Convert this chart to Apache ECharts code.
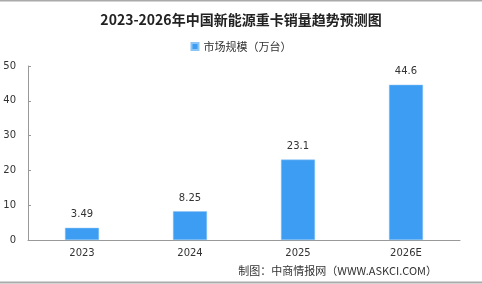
<!DOCTYPE html>
<html>
<head>
<meta charset="utf-8">
<script src="https://cdn.jsdelivr.net/npm/echarts@6/dist/echarts.min.js"></script>
<style>
  html, body { margin: 0; padding: 0; background: #fff; }
  #chart { width: 482px; height: 284px; }
</style>
</head>
<body>
<div id="chart"></div>
<script>
const categories = ['2023', '2024', '2025', '2026E']
const marketSize = [3.49, 8.25, 23.1, 44.6]
const seriesName = '市场规模（万台）'

const chart = echarts.init(document.getElementById('chart'))
const options = {
  animation: false,
  title: {
    text: '2023-2026年中国新能源重卡销量趋势预测图',
    left: 'center',
    top: 8,
    textStyle: {
      fontFamily: 'Noto Sans CJK SC',
      fontWeight: 'bold',
      fontSize: 14,
      color: '#222',
    },
  },
  legend: {
    data: [seriesName],
    top: 36,
    left: 'center',
    itemWidth: 7,
    itemHeight: 7,
    itemGap: 4,
    icon: 'rect',
    textStyle: {
      fontFamily: 'Noto Sans CJK SC',
      fontSize: 11,
      color: '#333',
    },
  },
  grid: {
    left: 28,
    right: 22,
    top: 66,
    bottom: 44,
  },
  xAxis: {
    type: 'category',
    data: categories,
    axisLine: { lineStyle: { color: '#999' } },
    axisTick: { inside: true, length: 4, lineStyle: { color: '#999' } },
    axisLabel: {
      color: '#333',
      fontSize: 10,
      fontFamily: 'DejaVu Sans',
      margin: 8,
    },
  },
  yAxis: {
    type: 'value',
    min: 0,
    max: 50,
    interval: 10,
    splitLine: { show: false },
    axisLine: { show: true, lineStyle: { color: '#999' } },
    axisTick: { show: true, inside: true, length: 3, lineStyle: { color: '#999' } },
    axisLabel: {
      color: '#333',
      fontSize: 10,
      fontFamily: 'DejaVu Sans',
      margin: 12,
    },
  },
  series: [
    {
      name: seriesName,
      type: 'bar',
      data: marketSize,
      barWidth: 34,
      itemStyle: {
        color: '#3d9df2',
        borderColor: '#8cc4f5',
        borderWidth: 0.5,
      },
      label: {
        show: true,
        position: 'top',
        distance: 8,
        color: '#333',
        fontSize: 10,
        fontFamily: 'DejaVu Sans',
      },
    },
  ],
  graphic: [
    {
      type: 'line',
      shape: { x1: 0, y1: 0.5, x2: 482, y2: 0.5 },
      style: { stroke: '#aaa', lineWidth: 2 },
    },
    {
      type: 'line',
      shape: { x1: 0, y1: 282.5, x2: 482, y2: 282.5 },
      style: { stroke: '#aaa', lineWidth: 2 },
    },
    {
      type: 'text',
      right: 45,
      top: 265,
      style: {
        text: '制图：中商情报网（WWW.ASKCI.COM）',
        fontFamily: 'Noto Sans CJK SC',
        fontSize: 11,
        fill: '#333',
      },
    },
  ],
}
chart.setOption(options, true)
</script>
</body>
</html>
